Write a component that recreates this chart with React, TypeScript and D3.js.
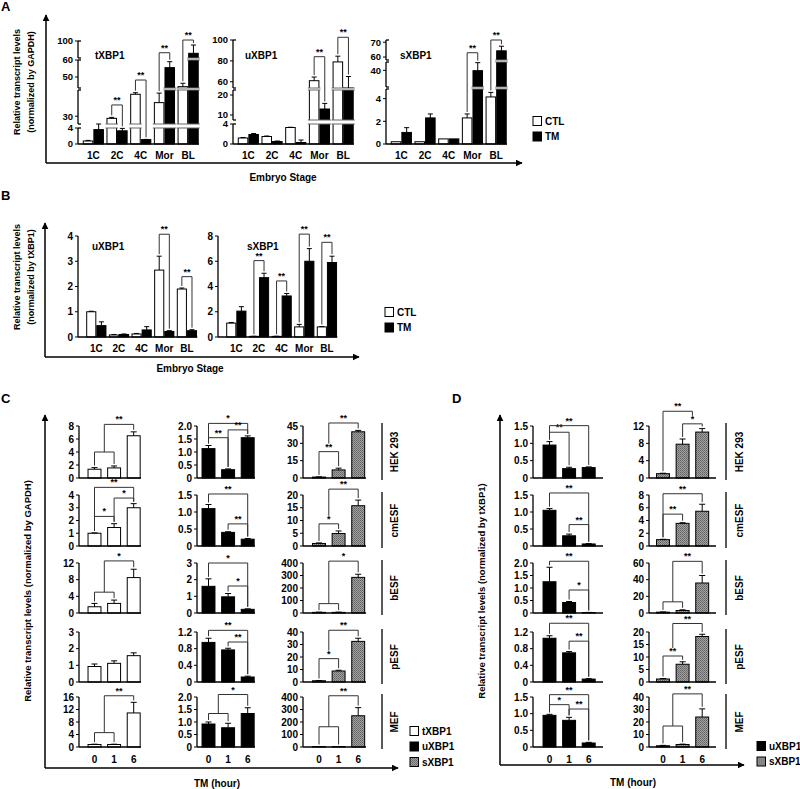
import React from 'react';
import * as d3 from 'd3';

const FONT = '"Liberation Sans", Arial, Helvetica, sans-serif';

const stages = ['1C', '2C', '4C', 'Mor', 'BL'];
const groups = ['CTL', 'TM'];
const hours = ['0', '1', '6'];
const cellLines = ['HEK 293', 'cmESF', 'bESF', 'pESF', 'MEF'];

// ---- A: relative to GAPDH (broken axes) ----
const aTxbp1Ctl = [0.75, 28.9, 41.3, 37, 44.3];
const aTxbp1CtlErr = [0.15, 0.5, 0.8, 4.9, 2.0];
const aTxbp1Tm = [3.6, 3.3, 1.1, 55.5, 72.5];
const aTxbp1TmErr = [0.5, 0.6, 0.05, 3.5, 18.5];
const aTxbp1Ticks = [0, 4, 30, 50, 60, 100];
const aTxbp1Breaks = [[0, 4], [26, 43.5], [43.5, 60], [62, 100]];
const aTxbp1Sig = [[1, 35.8], [2, 48.2], [3, 73.8], [4, 102.2]];

const aUxbp1Ctl = [1.2, 1.5, 3.3, 61, 79];
const aUxbp1CtlErr = [0.1, 0.1, 0.05, 3.5, 5.5];
const aUxbp1Tm = [1.9, 0.5, 0.3, 13, 50];
const aUxbp1TmErr = [0.2, 0.1, 0.5, 2.8, 15];
const aUxbp1Ticks = [0, 4, 10, 20, 60, 80, 100];
const aUxbp1Breaks = [[0, 4], [7.5, 22.5], [54, 100]];
const aUxbp1Sig = [[3, 84], [4, 102.6]];

const aSxbp1Ctl = [0.2, 0.2, 0.45, 2.3, 4.15];
const aSxbp1CtlErr = [0, 0, 0, 0.35, 0.4];
const aSxbp1Tm = [1.02, 2.3, 0.45, 39.8, 64.2];
const aSxbp1TmErr = [0.42, 0.35, 0, 4.8, 3.1];
const aSxbp1Ticks = [0, 2, 4, 40, 60, 70];
const aSxbp1Breaks = [[0, 4.85], [30, 45], [58, 71.5]];
const aSxbp1Sig = [[3, 62.9], [4, 71.5]];

// ---- B: relative to tXBP1 ----
const bUxbp1Ctl = [1.0, 0.08, 0.12, 2.65, 1.9];
const bUxbp1CtlErr = [0.02, 0.02, 0.02, 0.55, 0.04];
const bUxbp1Tm = [0.45, 0.1, 0.28, 0.22, 0.25];
const bUxbp1TmErr = [0.15, 0.02, 0.13, 0.03, 0.04];
const bUxbp1Ticks = [0, 1, 2, 3, 4];
const bUxbp1Sig = [[3, 4.07], [4, 2.39]];

const bSxbp1Ctl = [1.1, 0.05, 0.05, 0.8, 0.8];
const bSxbp1CtlErr = [0.05, 0.01, 0.01, 0.2, 0.03];
const bSxbp1Tm = [2.05, 4.7, 3.25, 6.0, 5.9];
const bSxbp1TmErr = [0.35, 0.35, 0.2, 1.0, 0.5];
const bSxbp1Ticks = [0, 2, 4, 6, 8];
const bSxbp1Sig = [[1, 6.05], [2, 4.44], [3, 8.15], [4, 7.5]];

// ---- C: TM time course, relative to GAPDH (rows = cell lines) ----
const cTxbp1 = [[1.35, 1.55, 6.5], [1.0, 1.45, 3.0], [1.5, 2.3, 8.5], [0.93, 1.12, 1.58], [0.8, 0.8, 10.9]];
const cTxbp1Err = [[0.25, 0.3, 0.6], [0.03, 0.3, 0.32], [0.8, 0.8, 2.0], [0.15, 0.15, 0.17], [0.1, 0.1, 3.4]];
const cTxbp1Ticks = [[0, 2, 4, 6, 8], [0, 1, 2, 3, 4], [0, 4, 8, 12], [0, 1, 2, 3], [0, 4, 8, 12, 16]];
const cTxbp1Sig = [
  [[0, 1, 4.0, ''], [0.5, 2, 8.25, '**']],
  [[0, 1, 2.32, '*'], [1, 2, 3.76, '*'], [0, 2, 4.6, '**']],
  [[0, 1, 5.0, ''], [0.5, 2, 12.5, '*']],
  [],
  [[0, 1, 4.6, ''], [0.5, 2, 16.4, '**']],
];

const cUxbp1 = [[1.13, 0.32, 1.55], [1.1, 0.4, 0.2], [1.6, 0.97, 0.22], [0.95, 0.77, 0.12], [0.92, 0.77, 1.34]];
const cUxbp1Err = [[0.12, 0.03, 0.07], [0.12, 0.02, 0.02], [0.45, 0.2, 0.03], [0.1, 0.04, 0.02], [0.08, 0.18, 0.23]];
const cUxbp1Ticks = [[0, 0.5, 1, 1.5, 2], [0, 0.5, 1, 1.5], [0, 1, 2, 3], [0, 0.4, 0.8, 1.2], [0, 0.5, 1, 1.5, 2]];
const cUxbp1Sig = [
  [[0, 2, 2.1, '*'], [0, 1, 1.55, '**'], [1, 2, 1.85, '**']],
  [[0, 2, 1.53, '**'], [1, 2, 0.65, '**']],
  [[0, 2, 3.0, '*'], [1, 2, 1.62, '*']],
  [[0, 2, 1.24, '**'], [1, 2, 0.96, '**']],
  [[0, 1, 1.34, ''], [0.5, 2, 2.1, '*']],
];

const cSxbp1 = [[0.8, 7, 40], [1.0, 4.9, 15.8], [5, 5, 285], [1, 8.8, 32.5], [3, 3, 250]];
const cSxbp1Err = [[0.2, 1.5, 1.2], [0.2, 1.0, 2.2], [2, 2, 25], [0.2, 0.6, 2.5], [1, 1, 65]];
const cSxbp1Ticks = [[0, 15, 30, 45], [0, 5, 10, 15, 20], [0, 100, 200, 300, 400], [0, 10, 20, 30, 40], [0, 100, 200, 300, 400]];
const cSxbp1Sig = [
  [[0, 1, 22.8, '**'], [0.5, 2, 47.6, '**']],
  [[0, 1, 8.7, '*'], [0.5, 2, 22.3, '**']],
  [[0, 1, 75, ''], [0.5, 2, 415, '*']],
  [[0, 1, 18.7, '*'], [0.5, 2, 41.4, '**']],
  [[0, 1, 162, ''], [0.5, 2, 410, '**']],
];

// ---- D: TM time course, relative to tXBP1 ----
const dUxbp1 = [[0.95, 0.27, 0.3], [1.05, 0.3, 0.06], [1.25, 0.42, 0.02], [1.05, 0.7, 0.07], [0.95, 0.8, 0.12]];
const dUxbp1Err = [[0.1, 0.04, 0.02], [0.05, 0.05, 0.01], [0.58, 0.04, 0.005], [0.06, 0.03, 0.01], [0.03, 0.09, 0.02]];
const dUxbp1Ticks = [[0, 0.5, 1, 1.5], [0, 0.5, 1, 1.5], [0, 0.5, 1, 1.5, 2], [0, 0.4, 0.8, 1.2], [0, 0.5, 1, 1.5]];
const dUxbp1Sig = [
  [[0, 1, 1.32, '**'], [0, 2, 1.51, '**']],
  [[0, 2, 1.56, '**'], [1, 2, 0.63, '**']],
  [[0, 2, 2.07, '**'], [1, 2, 0.92, '*']],
  [[0, 2, 1.41, '**'], [1, 2, 0.98, '**']],
  [[0, 1, 1.27, '*'], [0, 2, 1.57, '**'], [1, 2, 1.14, '**']],
];

const dSxbp1 = [[1.0, 7.8, 10.6], [1.0, 3.55, 5.45], [1, 3, 36], [1.2, 7.1, 18.2], [1, 2, 24]];
const dSxbp1Err = [[0.1, 1.2, 0.8], [0.05, 0.1, 1.1], [0.3, 0.8, 9], [0.2, 1.0, 0.9], [0.3, 0.3, 6.5]];
const dSxbp1Ticks = [[0, 4, 8, 12], [0, 2, 4, 6, 8], [0, 20, 40, 60], [0, 5, 10, 15, 20], [0, 10, 20, 30, 40]];
const dSxbp1Sig = [
  [[1, 2, 12.5, '*'], [0, 1.5, 15.4, '**']],
  [[0, 1, 5.0, '**'], [0, 2, 8.2, '**']],
  [[0, 1, 13.4, ''], [0.5, 2, 62, '**']],
  [[0, 1, 10.4, '**'], [0.5, 2, 23.4, '**']],
  [[0, 1, 16.8, ''], [0.5, 2, 42.5, '**']],
];

// layout
const rowTops = [426, 495, 563, 632, 697];
const rowBottoms = [478, 546, 613, 682, 747];

const FILLS: Record<string, string> = { t: '#fff', u: '#000', s: 'url(#dots)' };

function brokenScale(domains: number[][], ranges: number[][]) {
  const sc = domains.map((d, i) => d3.scaleLinear().domain(d).range(ranges[i]));
  return (v: number) => {
    for (let i = 0; i < domains.length; i++) {
      if (v <= domains[i][1] || i === domains.length - 1) {
        return v < domains[i][0] ? ranges[i][0] : sc[i](v);
      }
    }
    return ranges[0][0];
  };
}

function Arrow({ x1, y1, x2, y2 }: any) {
  return <line x1={x1} y1={y1} x2={x2} y2={y2} stroke="#000" strokeWidth={1.5} markerEnd="url(#arrowHead)" />;
}

function RotText({ x, y, size = 10, children }: any) {
  return (
    <text transform={`translate(${x},${y}) rotate(-90)`} textAnchor="middle" dy="0.35em"
      fontSize={size} fontWeight="bold">{children}</text>
  );
}

function EmbryoPlot(p: any) {
  const y = brokenScale(p.domains, p.ranges);
  const base = p.ranges[0][0];
  const x = d3.scaleBand().domain(stages).range([p.x0, p.x0 + p.step * stages.length])
    .paddingInner(0.15).paddingOuter(0.075);
  const sub = d3.scaleBand().domain(groups).range([0, x.bandwidth()]).paddingInner(0.1);
  const bw = sub.bandwidth();
  const bars = stages.flatMap((s, i) => [
    { s, g: 'CTL', v: p.ctl[i], e: p.ctlErr[i] },
    { s, g: 'TM', v: p.tm[i], e: p.tmErr[i] },
  ]);
  const gaps = p.ranges.slice(1).map((r: number[], i: number) => [r[0], p.ranges[i][1]]);
  const broken = p.ranges.length > 1;
  const cx = (s: string, g: string) => (x(s) as number) + (sub(g) as number) + bw / 2;
  return (
    <g>
      {p.ranges.map((r: number[], i: number) => (
        <g key={i} stroke="#000" strokeWidth={1.3}>
          <line x1={p.axisX} x2={p.axisX} y1={r[0]} y2={r[1]} />
          {broken && i > 0 && <line x1={p.axisX} x2={p.axisX + 3} y1={r[0]} y2={r[0]} />}
          {broken && <line x1={p.axisX} x2={p.axisX + 3} y1={r[1]} y2={r[1]} />}
        </g>
      ))}
      {p.ticks.map((t: number) => (
        <g key={t}>
          <line x1={p.axisX - 3} x2={p.axisX} y1={y(t)} y2={y(t)} stroke="#000" strokeWidth={1} />
          <text x={p.axisX - 5} y={y(t)} dy="0.35em" textAnchor="end" fontSize={broken ? 9.5 : 10} fontWeight="bold">{t}</text>
        </g>
      ))}
      {bars.map((b, i) => {
        const bx = (x(b.s) as number) + (sub(b.g) as number);
        const top = y(b.v);
        return (
          <g key={i}>
            <rect x={bx} y={top} width={bw} height={base - top}
              fill={b.g === 'CTL' ? '#fff' : '#000'} stroke="#000" strokeWidth={1} />
            {gaps.filter((gp: number[]) => top <= gp[0]).map((gp: number[], j: number) => (
              <g key={j}>
                <rect x={bx - 1.5} y={gp[0]} width={bw + 3} height={gp[1] - gp[0]} fill="#fff" />
                <line x1={bx - 1.5} x2={bx + bw + 1.5} y1={gp[0]} y2={gp[0]} stroke="#666" strokeWidth={1} />
                <line x1={bx - 1.5} x2={bx + bw + 1.5} y1={gp[1]} y2={gp[1]} stroke="#666" strokeWidth={1} />
              </g>
            ))}
            {b.e > 0 && (
              <g stroke="#000" strokeWidth={1}>
                <line x1={bx + bw / 2} x2={bx + bw / 2} y1={top} y2={y(b.v + b.e)} />
                <line x1={bx + bw / 2 - 2.5} x2={bx + bw / 2 + 2.5} y1={y(b.v + b.e)} y2={y(b.v + b.e)} />
              </g>
            )}
          </g>
        );
      })}
      <line x1={p.axisX} x2={p.x0 + p.step * stages.length - 1} y1={base} y2={base} stroke="#000" strokeWidth={1.3} />
      {p.sig.map(([i, level]: number[], k: number) => {
        const s = stages[i];
        const xl = cx(s, 'CTL');
        const xr = cx(s, 'TM');
        const yb = y(level);
        const yl = y(p.ctl[i] + p.ctlErr[i]) - 2;
        const yr = y(p.tm[i] + p.tmErr[i]) - 2;
        return (
          <g key={k}>
            <path d={`M${xl},${yl}V${yb}H${xr}V${yr}`} fill="none" stroke="#333" strokeWidth={1} />
            <text x={(xl + xr) / 2} y={yb - 2} textAnchor="middle" fontSize={9} fontWeight="bold">**</text>
          </g>
        );
      })}
      {stages.map((s) => (
        <text key={s} x={(x(s) as number) + x.bandwidth() / 2} y={base + 15} textAnchor="middle"
          fontSize={10} fontWeight="bold">{s}</text>
      ))}
      <text x={p.titleX} y={p.titleY} fontSize={10} fontWeight="bold">{p.title}</text>
    </g>
  );
}

function TimePlot(p: any) {
  const y = d3.scaleLinear().domain([0, d3.max(p.ticks as number[]) as number]).range([p.bottom, p.top]);
  const x = d3.scaleBand().domain(hours).range([p.first - 9.8, p.first + 49]).paddingInner(0.34).paddingOuter(0.17);
  const bw = x.bandwidth();
  const center = (k: number) => {
    const lo = Math.floor(k);
    const hi = Math.ceil(k);
    const a = (x(hours[lo]) as number) + bw / 2;
    const b = (x(hours[hi]) as number) + bw / 2;
    return a + (b - a) * (k - lo);
  };
  const decimals = p.ticks.some((t: number) => !Number.isInteger(t));
  const fmt = (t: number) => (t === 0 ? '0' : decimals ? d3.format('.1f')(t) : String(t));
  const legBottom = (k: number) => {
    if (Number.isInteger(k)) return y(p.vals[k] + p.errs[k]) - 2;
    const inner = p.sig.find((s: any[]) => (s[0] + s[1]) / 2 === k);
    return inner ? y(inner[2]) - (inner[3] ? 8 : 0) : p.bottom;
  };
  return (
    <g>
      <line x1={p.axis} x2={p.axis} y1={p.bottom} y2={p.top} stroke="#000" strokeWidth={1.3} />
      {p.ticks.map((t: number) => (
        <g key={t}>
          <line x1={p.axis - 3} x2={p.axis} y1={y(t)} y2={y(t)} stroke="#000" strokeWidth={1} />
          <text x={p.axis - 5} y={y(t)} dy="0.35em" textAnchor="end" fontSize={10} fontWeight="bold">{fmt(t)}</text>
        </g>
      ))}
      {hours.map((h, i) => {
        const bx = x(h) as number;
        const top = y(p.vals[i]);
        const et = y(p.vals[i] + p.errs[i]);
        return (
          <g key={h}>
            <rect x={bx} y={top} width={bw} height={p.bottom - top} fill={p.fill} stroke="#000" strokeWidth={1} />
            <g stroke="#000" strokeWidth={1}>
              <line x1={bx + bw / 2} x2={bx + bw / 2} y1={top} y2={et} />
              <line x1={bx + bw / 2 - 3} x2={bx + bw / 2 + 3} y1={et} y2={et} />
            </g>
          </g>
        );
      })}
      <line x1={p.axis} x2={p.end} y1={p.bottom} y2={p.bottom} stroke="#000" strokeWidth={1.3} />
      {p.sig.map((s: any[], k: number) => {
        const xl = center(s[0]);
        const xr = center(s[1]);
        const yb = y(s[2]);
        return (
          <g key={k}>
            <path d={`M${xl},${legBottom(s[0])}V${yb}H${xr}V${legBottom(s[1])}`} fill="none" stroke="#333" strokeWidth={1} />
            {s[3] && <text x={(xl + xr) / 2} y={yb - 2} textAnchor="middle" fontSize={9} fontWeight="bold">{s[3]}</text>}
          </g>
        );
      })}
      {p.showHours && hours.map((h) => (
        <text key={h} x={(x(h) as number) + bw / 2} y={p.bottom + 15.5} textAnchor="middle" fontSize={10} fontWeight="bold">{h}</text>
      ))}
    </g>
  );
}

function Legend({ x, y, items }: any) {
  return (
    <g>
      {items.map((it: any, i: number) => (
        <g key={it.label} transform={`translate(${x},${y + i * 15.5})`}>
          <rect x={0} y={-4.5} width={8.5} height={9} fill={it.fill} stroke="#000" strokeWidth={1} />
          <text x={12} y={0} dy="0.35em" fontSize={10} fontWeight="bold">{it.label}</text>
        </g>
      ))}
    </g>
  );
}

function RowLabels({ lineX, textX }: any) {
  return (
    <g>
      {cellLines.map((c, r) => (
        <g key={c}>
          <line x1={lineX} x2={lineX} y1={rowTops[r] - 3} y2={rowBottoms[r] + 2} stroke="#000" strokeWidth={1.3} />
          <RotText x={textX} y={(rowTops[r] + rowBottoms[r]) / 2}>{c}</RotText>
        </g>
      ))}
    </g>
  );
}

export default function App() {
  const cCols = [
    { axis: 79, first: 94.5, end: 141, vals: cTxbp1, errs: cTxbp1Err, ticks: cTxbp1Ticks, sig: cTxbp1Sig, fill: FILLS.t },
    { axis: 197, first: 208.5, end: 255, vals: cUxbp1, errs: cUxbp1Err, ticks: cUxbp1Ticks, sig: cUxbp1Sig, fill: FILLS.u },
    { axis: 303, first: 319, end: 366, vals: cSxbp1, errs: cSxbp1Err, ticks: cSxbp1Ticks, sig: cSxbp1Sig, fill: FILLS.s },
  ];
  const dCols = [
    { axis: 533, first: 549.5, end: 603, vals: dUxbp1, errs: dUxbp1Err, ticks: dUxbp1Ticks, sig: dUxbp1Sig, fill: FILLS.u },
    { axis: 649, first: 663, end: 716, vals: dSxbp1, errs: dSxbp1Err, ticks: dSxbp1Ticks, sig: dSxbp1Sig, fill: FILLS.s },
  ];
  const grid = (cols: any[], prefix: string) =>
    cols.map((c, ci) =>
      cellLines.map((_, r) => (
        <TimePlot key={`${prefix}${ci}-${r}`} axis={c.axis} first={c.first} end={c.end}
          top={rowTops[r]} bottom={rowBottoms[r]} vals={c.vals[r]} errs={c.errs[r]}
          ticks={c.ticks[r]} sig={c.sig[r]} fill={c.fill} showHours={r === cellLines.length - 1} />
      ))
    );

  return (
    <svg width={800} height={789} style={{ position: 'absolute', left: 0, top: 0, background: '#fff' }}
      fontFamily={FONT}>
      <defs>
        <marker id="arrowHead" viewBox="0 0 10 10" refX="9" refY="5" markerWidth="7" markerHeight="7"
          markerUnits="userSpaceOnUse" orient="auto">
          <path d="M0,0 L10,5 L0,10 z" fill="#000" />
        </marker>
        <pattern id="dots" width="2" height="2" patternUnits="userSpaceOnUse">
          <rect width="2" height="2" fill="#a0a0a0" />
          <rect width="1" height="1" fill="#636363" />
          <rect x="1" y="1" width="1" height="1" fill="#747474" />
        </pattern>
      </defs>
      <rect width={800} height={789} fill="#fff" />

      {/* Panel A */}
      <text x={1} y={11} fontSize={13} fontWeight="bold">A</text>
      <Arrow x1={46} y1={163} x2={46} y2={15} />
      <Arrow x1={46} y1={163} x2={522} y2={163} />
      <RotText x={17} y={82} size={9}>Relative transcript levels</RotText>
      <RotText x={31} y={82} size={9}>(normalized by GAPDH)</RotText>
      <EmbryoPlot title="tXBP1" titleX={95} titleY={59} axisX={78} x0={81.5} step={23.7}
        domains={aTxbp1Breaks} ranges={[[144, 128], [124, 90], [88, 60], [58, 41]]}
        ticks={aTxbp1Ticks} ctl={aTxbp1Ctl} ctlErr={aTxbp1CtlErr} tm={aTxbp1Tm} tmErr={aTxbp1TmErr} sig={aTxbp1Sig} />
      <EmbryoPlot title="uXBP1" titleX={245} titleY={59} axisX={233} x0={236.5} step={23.7}
        domains={aUxbp1Breaks} ranges={[[144, 124], [120, 90], [88, 40]]}
        ticks={aUxbp1Ticks} ctl={aUxbp1Ctl} ctlErr={aUxbp1CtlErr} tm={aUxbp1Tm} tmErr={aUxbp1TmErr} sig={aUxbp1Sig} />
      <EmbryoPlot title="sXBP1" titleX={400} titleY={59} axisX={386} x0={389.5} step={23.7}
        domains={aSxbp1Breaks} ranges={[[144, 89], [87, 62], [60, 40]]}
        ticks={aSxbp1Ticks} ctl={aSxbp1Ctl} ctlErr={aSxbp1CtlErr} tm={aSxbp1Tm} tmErr={aSxbp1TmErr} sig={aSxbp1Sig} />
      <text x={283} y={181} textAnchor="middle" fontSize={10} fontWeight="bold">Embryo Stage</text>
      <Legend x={533} y={121} items={[{ label: 'CTL', fill: '#fff' }, { label: 'TM', fill: '#000' }]} />

      {/* Panel B */}
      <text x={1} y={200} fontSize={13} fontWeight="bold">B</text>
      <Arrow x1={45} y1={357} x2={45} y2={223} />
      <Arrow x1={45} y1={357} x2={359} y2={357} />
      <RotText x={17} y={277} size={9}>Relative transcript levels</RotText>
      <RotText x={31} y={277} size={9}>(normalized by tXBP1)</RotText>
      <EmbryoPlot title="uXBP1" titleX={92} titleY={250} axisX={78} x0={85} step={22.65}
        domains={[[0, 4]]} ranges={[[337, 236]]}
        ticks={bUxbp1Ticks} ctl={bUxbp1Ctl} ctlErr={bUxbp1CtlErr} tm={bUxbp1Tm} tmErr={bUxbp1TmErr} sig={bUxbp1Sig} />
      <EmbryoPlot title="sXBP1" titleX={247} titleY={250} axisX={218} x0={225} step={22.65}
        domains={[[0, 8]]} ranges={[[337, 236]]}
        ticks={bSxbp1Ticks} ctl={bSxbp1Ctl} ctlErr={bSxbp1CtlErr} tm={bSxbp1Tm} tmErr={bSxbp1TmErr} sig={bSxbp1Sig} />
      <text x={190} y={372} textAnchor="middle" fontSize={10} fontWeight="bold">Embryo Stage</text>
      <Legend x={385} y={312} items={[{ label: 'CTL', fill: '#fff' }, { label: 'TM', fill: '#000' }]} />

      {/* Panel C */}
      <text x={1} y={403} fontSize={13} fontWeight="bold">C</text>
      <Arrow x1={45} y1={768} x2={45} y2={415} />
      <Arrow x1={45} y1={768} x2={398} y2={768} />
      <RotText x={28} y={591} size={9.5}>Relative transcript levels (normalized by GAPDH)</RotText>
      {grid(cCols, 'c')}
      <RowLabels lineX={382} textX={394} />
      <text x={217} y={787} textAnchor="middle" fontSize={10} fontWeight="bold">TM (hour)</text>
      <Legend x={410} y={731} items={[{ label: 'tXBP1', fill: FILLS.t }, { label: 'uXBP1', fill: FILLS.u }, { label: 'sXBP1', fill: FILLS.s }]} />

      {/* Panel D */}
      <text x={452} y={403} fontSize={13} fontWeight="bold">D</text>
      <Arrow x1={500} y1={765} x2={500} y2={415} />
      <Arrow x1={500} y1={765} x2={744} y2={765} />
      <RotText x={482} y={591} size={9.5}>Relative transcript levels (normalized by tXBP1)</RotText>
      {grid(dCols, 'd')}
      <RowLabels lineX={726} textX={739} />
      <text x={633} y={786} textAnchor="middle" fontSize={10} fontWeight="bold">TM (hour)</text>
      <Legend x={757} y={746} items={[{ label: 'uXBP1', fill: FILLS.u }, { label: 'sXBP1', fill: FILLS.s }]} />
    </svg>
  );
}
